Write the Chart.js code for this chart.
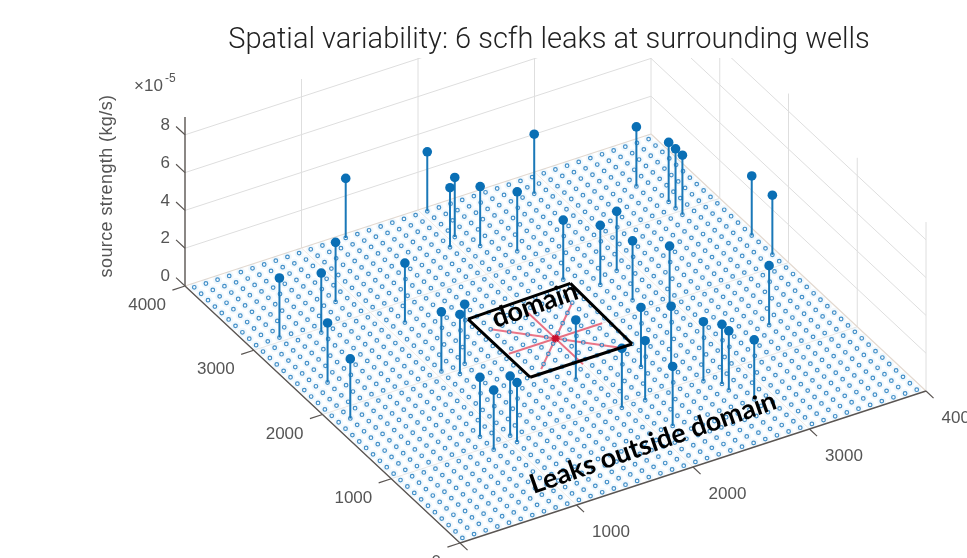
<!DOCTYPE html>
<html>
<head>
<meta charset="utf-8">
<title>Spatial variability</title>
<style>
  html, body { margin: 0; padding: 0; background: #fff; }
  canvas { display: block; filter: blur(0.3px); }
</style>
</head>
<body>
<canvas id="leakChart" width="967" height="558"></canvas>
<script src="https://cdn.jsdelivr.net/npm/chart.js@4"></script>
<script>
// leak wells (m), strength in units of 1e-5 kg/s
const leakX = [250, 550, 850, 1150, 250, 150, 1050, 1150, 1250, 850, 850, 1050, 1050, 1350, 2050, 2050, 1950, 2150, 2350, 2850, 2450,
    2650, 2850, 2750, 2950, 3550, 3650, 3650, 3650, 3950, 3950, 3450, 2350, 2550, 2650, 2750, 2750, 2850, 2150, 1950, 2150, 1850];
const leakY = [3050, 2950, 3250, 2750, 2350, 1850, 2050, 1950, 2050, 1150, 950, 1050, 950, 3950, 3950, 3550, 3450, 3350, 3150, 3750, 2650,
    2450, 2550, 2150, 1950, 3450, 3150, 3050, 2950, 2450, 2150, 1350, 1350, 1250, 950, 850, 750, 550, 950, 950, 550, 1450];
const leakZ = [3.15, 3.15, 3.15, 3.15, 3.15, 3.15, 3.15, 3.15, 3.15, 3.15, 3.15, 3.15, 3.15, 3.15, 3.15, 3.15, 3.15, 3.15, 3.15, 3.15, 3.15,
    3.15, 3.15, 3.15, 3.15, 3.15, 3.15, 3.15, 3.15, 3.15, 3.15, 3.15, 3.15, 3.15, 3.15, 3.15, 3.15, 3.15, 3.15, 3.15, 3.15, 3.15];

// floor sensor grid
const gridCoords = [50, 150, 250, 350, 450, 550, 650, 750, 850, 950, 1050, 1150, 1250, 1350, 1450, 1550, 1650, 1750, 1850, 1950,
    2050, 2150, 2250, 2350, 2450, 2550, 2650, 2750, 2850, 2950, 3050, 3150, 3250, 3350, 3450, 3550, 3650, 3750, 3850, 3950];

// domain outline and the rays from its centre
const domainX = [1575, 2470, 2450, 1575, 1575];
const domainY = [2553, 2580, 1648, 1648, 2553];
const centreX = [2000];
const centreY = [2000];
const rayX = [1650, 2350, 2400, 1600, 2350, 1700, 2000, 2000];
const rayY = [2350, 1650, 2000, 2000, 2350, 1700, 2400, 1600];

// axes
const xyTicks = [0, 1000, 2000, 3000, 4000];
const xTickLabels = ['0', '1000', '2000', '3000', '4000'];
const yTickLabels = ['0', '1000', '2000', '3000', '4000'];
const zTicks = [0, 2, 4, 6, 8];
const zTickLabels = ['0', '2', '4', '6', '8'];
const zTop = 8.94;
const axisMax = 4000;

const titleText = 'Spatial variability: 6 scfh leaks at surrounding wells';
const zTitle = 'source strength (kg/s)';

// view of the MATLAB axes, data units to plot units
function project(x, y, z) {
    return {
        x: 460 + x * 466 / 4000 - y * 275 / 4000,
        y: 543 - x * 152 / 4000 - y * 257 / 4000 - z * 18.9
    };
}

// one dataset per style, segments split with NaN points
function segments(list) {
    const pts = [];
    list.forEach(function (s) {
        pts.push(project(s[0], s[1], s[2]), project(s[3], s[4], s[5]), { x: NaN, y: NaN });
    });
    return pts;
}

function lineSet(list, color, width) {
    return {
        data: segments(list), showLine: true, borderColor: color, borderWidth: width,
        pointRadius: 0, spanGaps: false, borderCapStyle: 'butt', tension: 0
    };
}

const innerTicks = xyTicks.slice(1, 4);
const wallGrid = [], floorGrid = [], axisLines = [], tickLines = [];

innerTicks.forEach(function (t) {
    wallGrid.push([t, axisMax, 0, t, axisMax, zTop]);
    wallGrid.push([axisMax, t, 0, axisMax, t, zTop]);
    floorGrid.push([t, 0, 0, t, axisMax, 0]);
    floorGrid.push([0, t, 0, axisMax, t, 0]);
});
wallGrid.push([axisMax, 0, 0, axisMax, 0, zTop]);
wallGrid.push([axisMax, axisMax, 0, axisMax, axisMax, zTop]);
zTicks.slice(1).forEach(function (z) {
    wallGrid.push([0, axisMax, z, axisMax, axisMax, z]);
    wallGrid.push([axisMax, axisMax, z, axisMax, 0, z]);
    tickLines.push([0, axisMax, z, 0, axisMax + 130, z]);
});
tickLines.push([0, axisMax, 0, 0, axisMax + 130, 0]);
xyTicks.forEach(function (t) {
    tickLines.push([t, 0, 0, t, -110, 0]);
    tickLines.push([0, t, 0, -108, t, 0]);
});
axisLines.push([0, 0, 0, axisMax, 0, 0]);
axisLines.push([0, 0, 0, 0, axisMax, 0]);
axisLines.push([0, axisMax, 0, 0, axisMax, zTop]);

const backEdges = [[0, axisMax, 0, axisMax, axisMax, 0], [axisMax, axisMax, 0, axisMax, 0, 0]];

const floorDots = [];
gridCoords.forEach(function (gx) {
    gridCoords.forEach(function (gy) {
        floorDots.push(project(gx, gy, 0));
    });
});

const stems = [], heads = [];
leakX.forEach(function (lx, i) {
    stems.push([lx, leakY[i], 0, lx, leakY[i], leakZ[i]]);
    heads.push(project(lx, leakY[i], leakZ[i]));
});

const rays = [];
rayX.forEach(function (rx, i) {
    rays.push([centreX[0], centreY[0], 0, rx, rayY[i], 0]);
});

const domainSides = [];
for (let i = 0; i < domainX.length - 1; i++) {
    domainSides.push([domainX[i], domainY[i], 0, domainX[i + 1], domainY[i + 1], 0]);
}

// painted in this order, first entry at the bottom
const layers = [
    lineSet(wallGrid, '#dedede', 1),
    lineSet(floorGrid, '#ece9e6', 1),
    lineSet(backEdges, '#e3d9d0', 1.2),
    { data: floorDots, pointRadius: 4.5, pointBackgroundColor: 'rgba(120,190,235,0.10)', pointBorderWidth: 0 },
    lineSet(rays, 'rgba(226,60,85,0.7)', 2),
    { data: floorDots, pointRadius: 1.8, pointBackgroundColor: 'rgba(255,255,255,0.4)', pointBorderColor: 'rgba(35,125,190,0.85)', pointBorderWidth: 1.2 },
    lineSet(stems, '#1a78b8', 2),
    { data: heads, pointRadius: 4.8, pointBackgroundColor: '#0a6fb5', pointBorderWidth: 0 },
    { data: [project(centreX[0], centreY[0], 0)], pointStyle: 'star', pointRadius: 4, pointBorderColor: '#c8102e', pointBorderWidth: 2 },
    lineSet(domainSides, '#000', 3),
    lineSet(tickLines, '#5a5552', 1.2),
    lineSet(axisLines, '#5a5552', 1.4)
];

const textGrey = '#555';
const textFont = '"Liberation Sans", Arial, sans-serif';

// axis text sits in the scene, so it is placed through the same scales
const sceneText = {
    id: 'sceneText',
    afterLayout: function (chart) {
        chart.titleBlock.left = 131;
    },
    afterDatasetsDraw: function (chart) {
        const c = chart.ctx;
        const sx = chart.scales.x, sy = chart.scales.y;
        const at = function (x, y, z) {
            const p = project(x, y, z);
            return { x: sx.getPixelForValue(p.x), y: sy.getPixelForValue(p.y) };
        };
        const put = function (txt, x, y, font, color, align, angle, spacing) {
            c.save();
            c.translate(x, y);
            c.rotate((angle || 0) * Math.PI / 180);
            c.font = font;
            c.letterSpacing = spacing || '0px';
            c.fillStyle = color;
            c.textAlign = align || 'center';
            c.textBaseline = 'middle';
            c.fillText(txt, 0, 0);
            c.restore();
        };
        const tickFont = '17px ' + textFont;

        xyTicks.forEach(function (t, i) {
            const px = at(t, 0, 0);
            if (t > 0) put(xTickLabels[i], px.x + 34.5, px.y + 27.5, tickFont, textGrey);
            const py = at(0, t, 0);
            put(yTickLabels[i], py.x - 19, py.y + 19.5, tickFont, textGrey, 'right');
        });
        zTicks.forEach(function (z, i) {
            const p = at(0, axisMax, z);
            put(zTickLabels[i], p.x - 15, p.y - 9.5, tickFont, textGrey, 'right');
        });

        put('×10', 134, 86, '17px ' + textFont, textGrey, 'left');
        put('-5', 165, 79, '12px ' + textFont, textGrey, 'left');
        put(zTitle, 107, 186, '18px ' + textFont, textGrey, 'center', -90, '0.4px');

        const d = at(2097, 2464, 0);
        put('domain', d.x, d.y, 'bold 27px Lato, sans-serif', '#000', 'center', -19.3);
        const l = at(1909, 428, 0);
        put('Leaks outside domain', l.x, l.y, 'bold 27px Lato, sans-serif', '#000', 'center', -19.3);
    }
};

new Chart(document.getElementById('leakChart'), {
    type: 'scatter',
    data: { datasets: layers.slice().reverse() },
    plugins: [sceneText],
    options: {
        responsive: false,
        animation: false,
        events: [],
        layout: { padding: 0, autoPadding: false },
        plugins: {
            legend: { display: false },
            tooltip: { enabled: false },
            title: {
                display: true,
                text: titleText,
                color: '#222',
                font: { family: 'Roboto, ' + textFont, size: 29, weight: 300, lineHeight: 1.2 },
                padding: { top: 23, bottom: 0.2 }
            }
        },
        scales: {
            x: { type: 'linear', display: false, min: 0, max: 967 },
            y: { type: 'linear', display: false, min: 58, max: 558, reverse: true }
        }
    }
});
</script>
</body>
</html>
